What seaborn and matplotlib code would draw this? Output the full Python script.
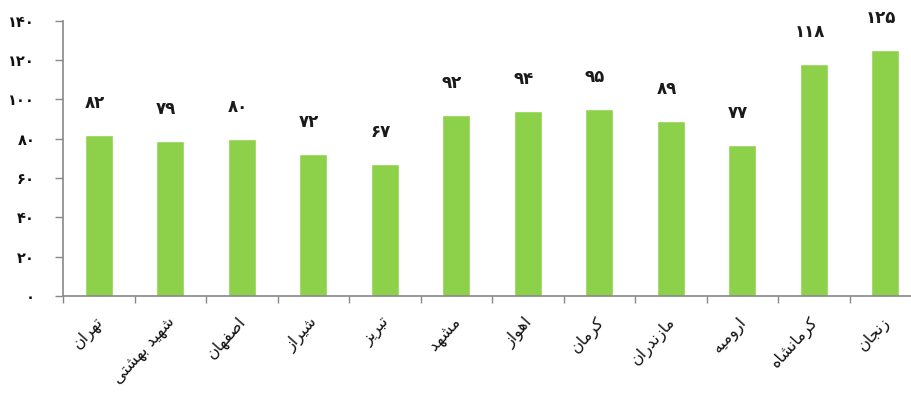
import numpy as np
import pandas as pd
import matplotlib
matplotlib.use("Agg")
import matplotlib.pyplot as plt
import seaborn as sns

categories = ["تهران", "شهید بهشتی", "اصفهان", "شیراز", "تبریز", "مشهد",
              "اهواز", "کرمان", "مازندران", "ارومیه", "کرمانشاه", "زنجان"]
values = [82, 79, 80, 72, 67, 92, 94, 95, 89, 77, 118, 125]
yticks = [0, 20, 40, 60, 80, 100, 120, 140]

# minimal Persian shaping: (isolated, final, initial, medial)
FORMS = {
    "ا": (0xFE8D, 0xFE8E, None, None),
    "ب": (0xFE8F, 0xFE90, 0xFE91, 0xFE92),
    "ت": (0xFE95, 0xFE96, 0xFE97, 0xFE98),
    "ج": (0xFE9D, 0xFE9E, 0xFE9F, 0xFEA0),
    "د": (0xFEA9, 0xFEAA, None, None),
    "ر": (0xFEAD, 0xFEAE, None, None),
    "ز": (0xFEAF, 0xFEB0, None, None),
    "ش": (0xFEB5, 0xFEB6, 0xFEB7, 0xFEB8),
    "ص": (0xFEB9, 0xFEBA, 0xFEBB, 0xFEBC),
    "ف": (0xFED1, 0xFED2, 0xFED3, 0xFED4),
    "م": (0xFEE1, 0xFEE2, 0xFEE3, 0xFEE4),
    "ن": (0xFEE5, 0xFEE6, 0xFEE7, 0xFEE8),
    "ه": (0xFEE9, 0xFEEA, 0xFEEB, 0xFEEC),
    "و": (0xFEED, 0xFEEE, None, None),
    "ی": (0xFBFC, 0xFBFD, 0xFBFE, 0xFBFF),
    "ک": (0xFB8E, 0xFB8F, 0xFB90, 0xFB91),
}


def dual(c):
    return c in FORMS and FORMS[c][2] is not None


def shape(s):
    out = []
    for i, c in enumerate(s):
        if c not in FORMS:
            out.append(c)
            continue
        prev_join = i > 0 and dual(s[i - 1])
        next_join = dual(c) and i + 1 < len(s) and s[i + 1] in FORMS
        iso, fin, ini, med = FORMS[c]
        if prev_join and next_join:
            cp = med
        elif prev_join:
            cp = fin
        elif next_join:
            cp = ini
        else:
            cp = iso
        out.append(chr(cp))
    return "".join(out)[::-1]


def fa_num(n):
    return "".join(chr(0x06F0 + int(d)) for d in str(n))


sns.set_theme(style="white")
plt.rcParams["font.family"] = ["DejaVu Sans"]

df = pd.DataFrame({"cat": categories, "val": values})

fig = plt.figure(figsize=(9.11, 3.94), dpi=100)
ax = fig.add_axes([63 / 911, 98 / 394, 858 / 911, 275.3 / 394])

sns.barplot(data=df, x="cat", y="val", color="#8DD14B", width=0.39,
            saturation=1, ax=ax)

ax.set_xlim(-0.5, len(categories) - 0.5)
ax.set_ylim(0, 140)
ax.set_xlabel("")
ax.set_ylabel("")

ax.set_yticks(yticks)
ax.set_yticklabels([fa_num(v) for v in yticks], fontsize=10.5,
                   fontweight="bold", color="#111111")
ax.tick_params(axis="y", which="major", direction="out", length=6,
               width=1, color="#888888", pad=14, left=True)

ax.set_xticks(np.arange(len(categories)))
ax.set_xticklabels([shape(c) for c in categories], rotation=48,
                   ha="right", va="center", rotation_mode="anchor",
                   fontsize=11.5, color="#111111")
ax.tick_params(axis="x", which="major", length=0, pad=17)
ax.set_xticks(np.arange(-0.5, len(categories), 1), minor=True)
ax.tick_params(axis="x", which="minor", direction="out", length=5,
               width=1, color="#888888", bottom=True)
import matplotlib.transforms as mtrans
offset = mtrans.ScaledTranslation(2 / 100, 0, fig.dpi_scale_trans)
for lbl in ax.get_xticklabels():
    lbl.set_transform(lbl.get_transform() + offset)

for s in ["top", "right"]:
    ax.spines[s].set_visible(False)
for s in ["left", "bottom"]:
    ax.spines[s].set_color("#888888")
    ax.spines[s].set_linewidth(1.2)

for i, v in enumerate(values):
    ax.annotate(fa_num(v), (i, v), xytext=(-3, 23), textcoords="offset points",
                ha="center", va="center", fontsize=12, fontweight="bold",
                color="#1a1a1a")

fig.savefig("out.png", dpi=100)
